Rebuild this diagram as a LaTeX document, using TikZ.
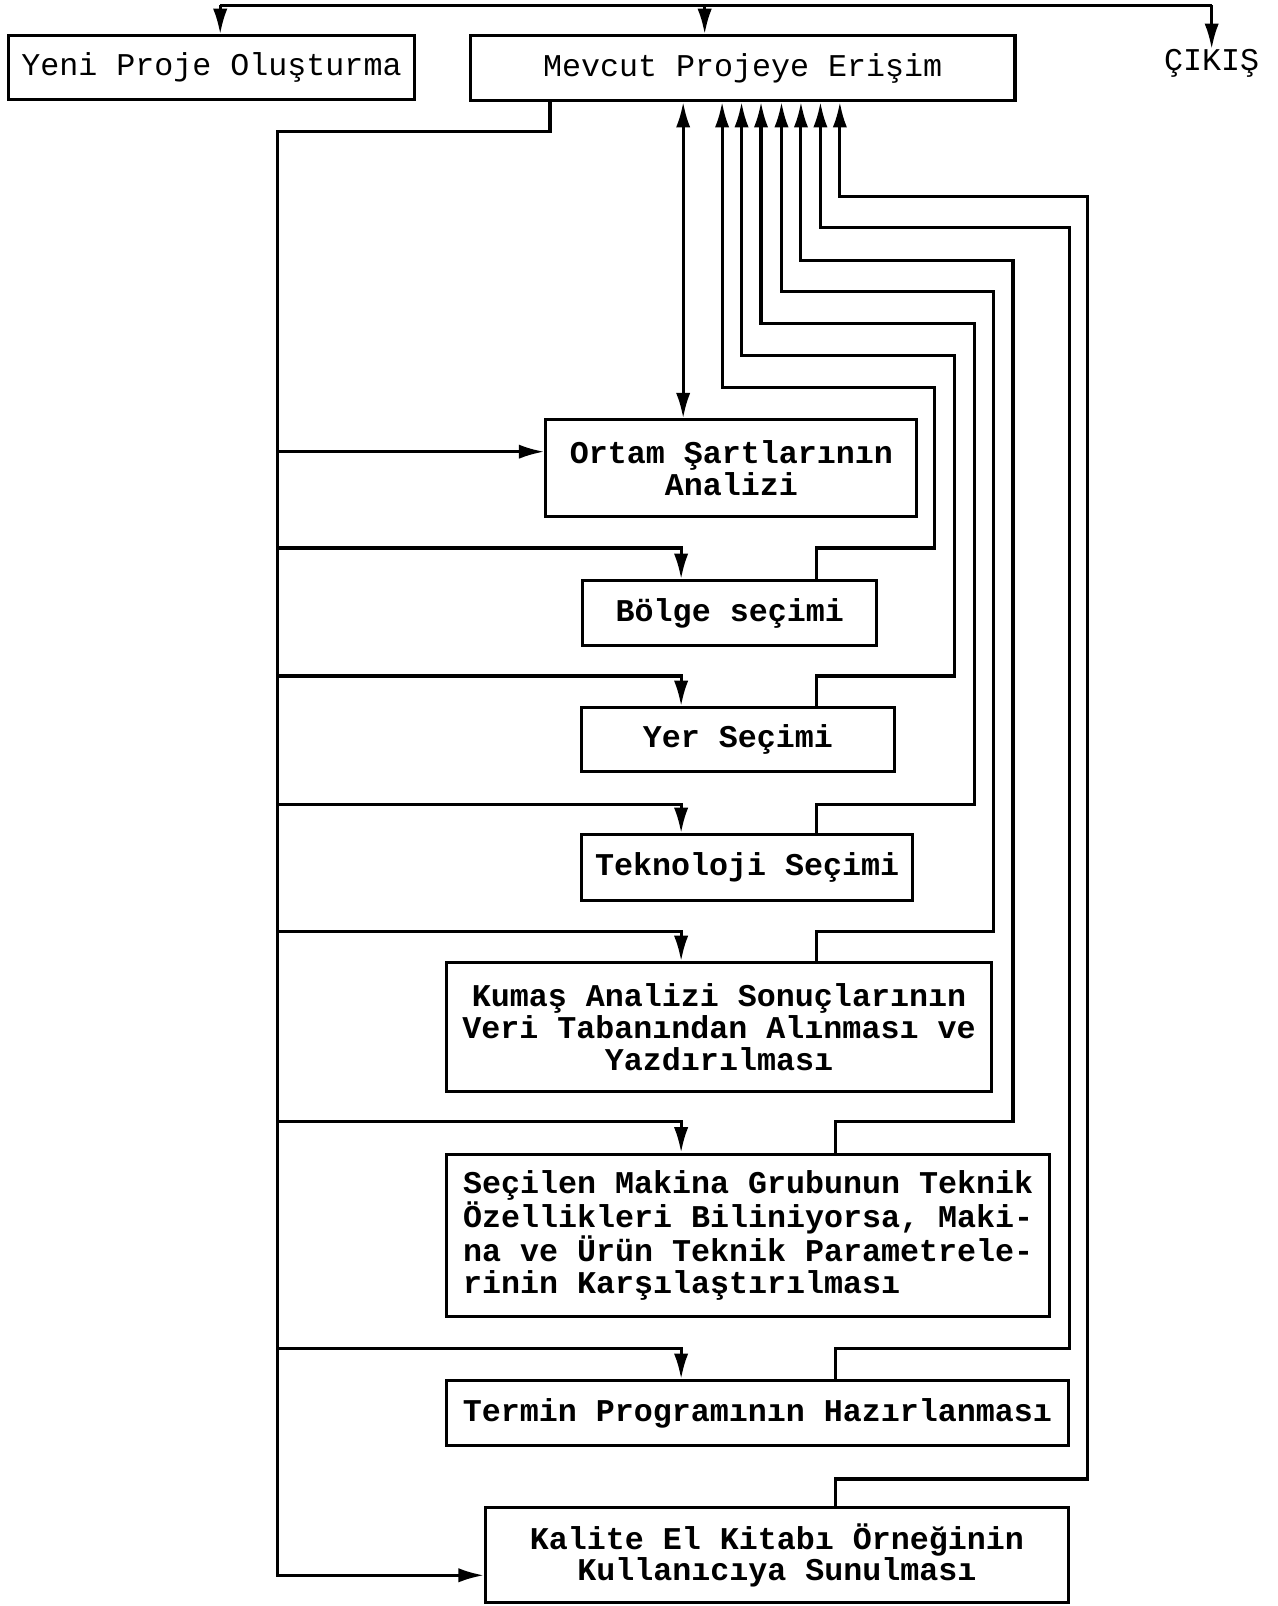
\documentclass[tikz,border=0pt]{standalone}
\usepackage{fontspec}
\setmonofont{Liberation Mono}
\usetikzlibrary{positioning,arrows.meta}

\begin{document}
\begin{tikzpicture}[x=0.02cm, y=-0.02cm, >={Latex[length=5mm,width=2.8mm]},
  box/.style={rectangle, draw=black, line width=1.7pt, inner sep=0pt, align=center, font=\ttfamily\bfseries\fontsize{17.6}{17.6}\selectfont},
  topbox/.style={box, font=\ttfamily\fontsize{17.6}{17.6}\selectfont},
  arr/.style={->, line width=1.7pt},
  ln/.style={line width=1.7pt}]
\useasboundingbox (0,0) rectangle (1247,1568);

%Nodes
\node[topbox, minimum width=7.94cm, minimum height=1.24cm] (yeni) at (206.5,66) {Yeni Proje Oluşturma};
\node[topbox, minimum width=10.64cm, minimum height=1.26cm] (mevcut) at (725,66.5) {Mevcut Projeye Erişim};
\node[inner sep=0pt, font=\ttfamily\fontsize{17.6}{17.6}\selectfont] (cikis) at (1183,62) {ÇIKIŞ};
\node[box, minimum width=7.24cm, minimum height=1.88cm] (ortam) at (714,457) {Ortam Şartlarının\\Analizi};
\node[box, minimum width=5.74cm, minimum height=1.26cm] (bolge) at (712.5,598.5) {Bölge seçimi};
\node[box, minimum width=6.1cm, minimum height=1.24cm] (yer) at (720.5,722) {Yer Seçimi};
\node[box, minimum width=6.46cm, minimum height=1.28cm] (tekno) at (729.5,847) {Teknoloji Seçimi};
\node[box, minimum width=10.64cm, minimum height=2.52cm] (kumas) at (702,1003) {Kumaş Analizi Sonuçlarının\\Veri Tabanından Alınması ve\\Yazdırılması};
\node[box, align=left, minimum width=11.78cm, minimum height=3.16cm] (secilen) at (730.5,1206) {Seçilen Makina Grubunun Teknik\\Özellikleri Biliniyorsa, Maki-\\na ve Ürün Teknik Parametrele-\\rinin Karşılaştırılması};
\node[box, minimum width=12.14cm, minimum height=1.26cm] (termin) at (739.5,1379.5) {Termin Programının Hazırlanması};
\node[box, minimum width=11.38cm, minimum height=1.86cm] (kalite) at (758.5,1518.5) {Kalite El Kitabı Örneğinin\\Kullanıcıya Sunulması};

%Top menu
\coordinate (t1) at (215,5);
\coordinate (t2) at (688,5);
\coordinate (t3) at (1183,5);
\draw[ln] (t1) -- (t3);
\draw[arr] (t1) -- (t1 |- yeni.north);
\draw[arr] (t2) -- (t2 |- mevcut.north);
\draw[arr] (t3) -- (cikis.north);

%Left bus
\coordinate (ltop) at (271,128);
\coordinate (lend) at (271,1538);
\draw[arr] (mevcut.south -| 537,0) |- (ltop) -- (lend) -- (kalite.west |- lend);
\draw[arr] (271,441) -- (ortam.west |- 0,441);
\draw[arr] (271,535) -| (bolge.north -| 665,0);
\draw[arr] (271,660) -| (yer.north -| 665,0);
\draw[arr] (271,785) -| (tekno.north -| 665,0);
\draw[arr] (271,909) -| (kumas.north -| 665,0);
\draw[arr] (271,1095) -| (secilen.north -| 665,0);
\draw[arr] (271,1317) -| (termin.north -| 665,0);

%Lines back
\draw[arr, <->] (ortam.north -| 667,0) -- (mevcut.south -| 667,0);
\draw[arr] (bolge.north -| 797,0) |- (912,535) |- (705,378) -- (mevcut.south -| 705,0);
\draw[arr] (yer.north -| 797,0) |- (932,660) |- (724,347) -- (mevcut.south -| 724,0);
\draw[arr] (tekno.north -| 797,0) |- (951,785) |- (743,316) -- (mevcut.south -| 743,0);
\draw[arr] (kumas.north -| 797,0) |- (970,909) |- (763,285) -- (mevcut.south -| 763,0);
\draw[arr] (secilen.north -| 816,0) |- (989,1095) |- (782,254) -- (mevcut.south -| 782,0);
\draw[arr] (termin.north -| 816,0) |- (1044,1317) |- (801,222) -- (mevcut.south -| 801,0);
\draw[arr] (kalite.north -| 816,0) |- (1062,1444) |- (820,192) -- (mevcut.south -| 820,0);

\end{tikzpicture}
\end{document}
